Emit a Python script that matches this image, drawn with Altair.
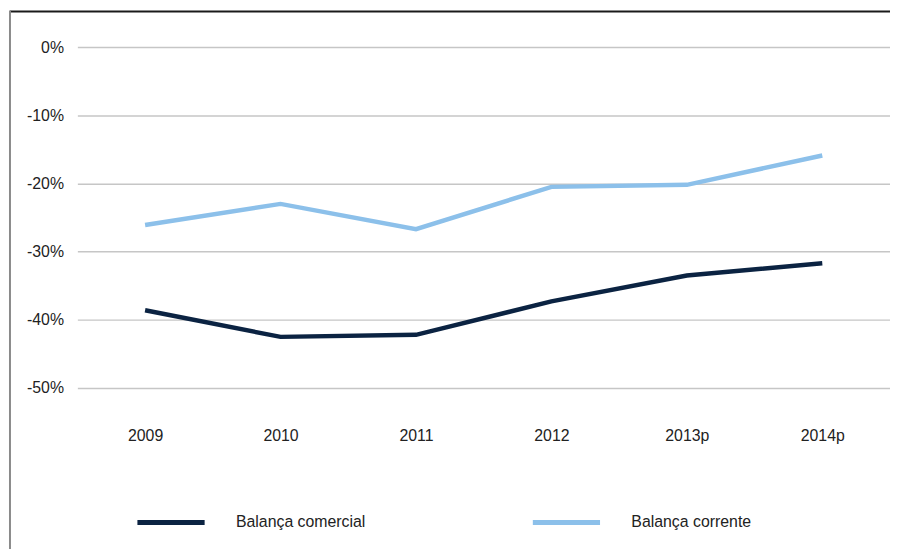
import altair as alt
import pandas as pd

years = ["2009", "2010", "2011", "2012", "2013p", "2014p"]
balanca_comercial = [-38.6, -42.5, -42.2, -37.3, -33.5, -31.7]
balanca_corrente = [-26.1, -23.0, -26.7, -20.5, -20.2, -15.9]
series_names = ["Balança comercial", "Balança corrente"]
series_colors = ["#0b2342", "#8cc0ea"]
y_ticks = [0, -10, -20, -30, -40, -50]

rows = []
for y, v in zip(years, balanca_comercial):
    rows.append({"ano": y, "valor": v, "serie": series_names[0]})
for y, v in zip(years, balanca_corrente):
    rows.append({"ano": y, "valor": v, "serie": series_names[1]})
df = pd.DataFrame(rows)

FONT = "Liberation Sans"

lines = alt.Chart(df).mark_line(strokeWidth=4.5, clip=False).encode(
    x=alt.X("ano:N", sort=years, title=None,
            scale=alt.Scale(type="point", padding=0.5),
            axis=alt.Axis(labelAngle=0, domain=False, ticks=False, grid=False,
                          labelFontSize=16, labelColor="#222222", labelFont=FONT,
                          labelPadding=40)),
    y=alt.Y("valor:Q", title=None,
            scale=alt.Scale(domain=[-50, 0], nice=False, zero=False),
            axis=alt.Axis(values=y_ticks, labelExpr="toString(datum.value) + '%'",
                          domain=False, ticks=False, grid=True,
                          gridColor="#c6c6c6", gridWidth=1.5,
                          labelFontSize=16, labelColor="#222222", labelFont=FONT,
                          labelPadding=14)),
    color=alt.Color("serie:N", sort=series_names,
                    scale=alt.Scale(domain=series_names, range=series_colors),
                    legend=alt.Legend(title=None, orient="none", direction="horizontal",
                                      legendX=58, legendY=443,
                                      symbolType="stroke", symbolSize=4600,
                                      symbolStrokeWidth=5, labelOffset=29,
                                      columnPadding=158, padding=0,
                                      labelFontSize=16, labelFont=FONT,
                                      labelColor="#222222")),
)

frame_df = pd.DataFrame({"k": [0]})
top_rule = alt.Chart(frame_df).mark_rule(color="#1a1a1a", strokeWidth=2, clip=False).encode(
    x=alt.value(-68), x2=alt.value(830), y=alt.value(-36)
)
left_rule = alt.Chart(frame_df).mark_rule(color="#8a8a8a", strokeWidth=2, clip=False).encode(
    x=alt.value(-68), y=alt.value(-37), y2=alt.value(520)
)

chart = alt.layer(lines, top_rule, left_rule).properties(
    width=820, height=344,
    autosize=alt.AutoSizeParams(type="none"),
    padding={"left": 70, "top": 37, "right": 0, "bottom": 160},
).configure(font=FONT).configure_view(strokeWidth=0, stroke=None)

chart.save("out.html", embed_options={"renderer": "svg", "actions": False})
